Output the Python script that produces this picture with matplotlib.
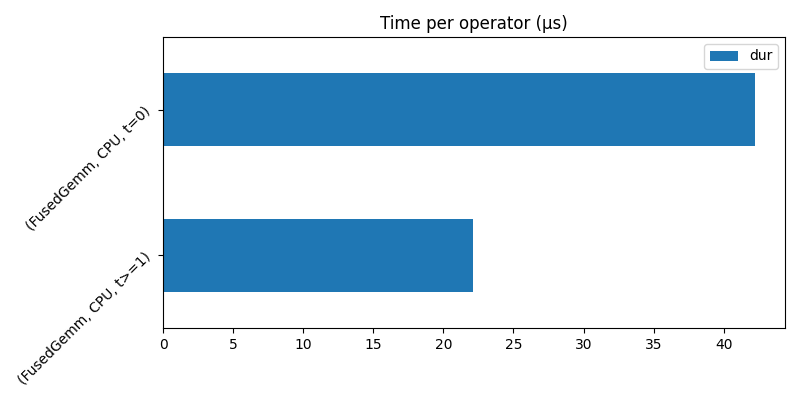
import matplotlib
matplotlib.use("Agg")
import matplotlib.pyplot as plt
import pandas as pd

labels = ["(FusedGemm, CPU, t>=1)", "(FusedGemm, CPU, t=0)"]
dur = [22.1, 42.25]

df = pd.DataFrame({"dur": dur}, index=labels)

fig, ax = plt.subplots(figsize=(8, 4), dpi=100)
df.plot.barh(ax=ax, color="#1f77b4")
ax.set_title("Time per operator (μs)")
ax.set_ylabel("")
for t in ax.get_yticklabels():
    t.set_rotation(45)
ax.legend(loc="upper right")
fig.subplots_adjust(left=0.204, right=0.981, top=0.9075, bottom=0.18)
fig.savefig("out.png")
